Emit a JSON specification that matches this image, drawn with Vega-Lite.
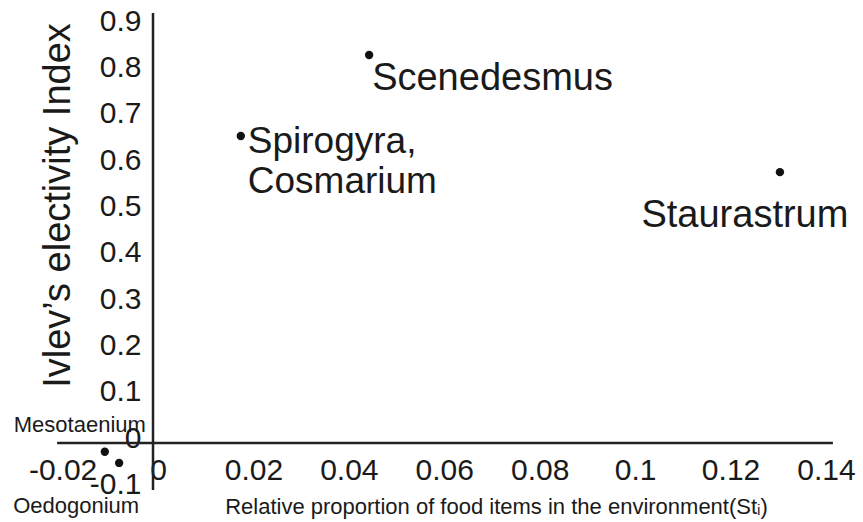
{
  "$schema": "https://vega.github.io/schema/vega-lite/v6.json",
  "width": 863,
  "height": 522,
  "padding": 0,
  "autosize": {"type": "none"},
  "background": "white",
  "config": {
    "view": {"stroke": null},
    "font": "Liberation Sans",
    "text": {"font": "Liberation Sans", "color": "#1a1a1a"}
  },
  "datasets": {
    "points": [
      {"x": 0.0453, "y": 0.838, "name": "Scenedesmus", "label": "Scenedesmus"},
      {"x": 0.0184, "y": 0.663, "name": "Spirogyra", "label": "Spirogyra,\nCosmarium"},
      {"x": 0.1314, "y": 0.585, "name": "Staurastrum", "label": "Staurastrum"},
      {"x": -0.0101, "y": -0.019, "name": "Mesotaenium", "label": "Mesotaenium"},
      {"x": -0.0071, "y": -0.043, "name": "Oedogonium", "label": "Oedogonium"}
    ],
    "axislines": [
      {"x": 0, "x2": 0, "y": -0.1015, "y2": 0.9287},
      {"x": -0.0201, "x2": 0.1425, "y": 0, "y2": 0}
    ]
  },
  "data": {"name": "points"},
  "encoding": {
    "x": {
      "field": "x",
      "type": "quantitative",
      "scale": {"domain": [-0.03207, 0.14881], "nice": false, "zero": false},
      "axis": {
        "orient": "bottom",
        "offset": -79,
        "domain": false,
        "ticks": false,
        "grid": false,
        "values": [-0.02, 0, 0.02, 0.04, 0.06, 0.08, 0.1, 0.12, 0.14],
        "labelExpr": "'' + datum.value",
        "labelFontSize": 30,
        "labelFont": "Liberation Sans",
        "labelColor": "#1a1a1a",
        "labelPadding": 12,
        "labelOffset": 5,
        "labelFlush": false,
        "labelOverlap": false,
        "title": "Relative proportion of food items in the environment(Stᵢ)",
        "titleFont": "Liberation Sans Narrow, Liberation Sans",
        "titleFontSize": 22,
        "titleFontWeight": "normal",
        "titleColor": "#1a1a1a",
        "titleX": 496,
        "titleY": 70,
        "titleAlign": "center",
        "titleBaseline": "alphabetic",
        "titleAnchor": null
      }
    },
    "y": {
      "field": "y",
      "type": "quantitative",
      "scale": {"domain": [-0.1706, 0.9568], "nice": false, "zero": false},
      "axis": {
        "orient": "left",
        "offset": -153,
        "domain": false,
        "ticks": false,
        "grid": false,
        "values": [-0.1, 0, 0.1, 0.2, 0.3, 0.4, 0.5, 0.6, 0.7, 0.8, 0.9],
        "labelExpr": "'' + datum.value",
        "labelFontSize": 30,
        "labelFont": "Liberation Sans",
        "labelColor": "#1a1a1a",
        "labelPadding": 12,
        "labelOffset": -5,
        "labelFlush": false,
        "labelOverlap": false,
        "title": "Ivlev’s electivity Index",
        "titleFont": "Liberation Sans",
        "titleFontSize": 38,
        "titleFontWeight": "normal",
        "titleColor": "#1a1a1a",
        "titleAngle": -90,
        "titleX": -84,
        "titleY": 205,
        "titleAlign": "center",
        "titleBaseline": "alphabetic",
        "titleAnchor": null
      }
    }
  },
  "layer": [
    {
      "data": {"name": "axislines"},
      "mark": {"type": "rule", "stroke": "#222222", "strokeWidth": 2.5},
      "encoding": {
        "x2": {"field": "x2"},
        "y2": {"field": "y2"}
      }
    },
    {
      "mark": {"type": "circle", "size": 70, "color": "#111111", "opacity": 1}
    },
    {
      "transform": [{"filter": "datum.name == 'Scenedesmus'"}],
      "mark": {"type": "text", "align": "left", "baseline": "alphabetic", "dx": 3, "dy": 35, "fontSize": 38},
      "encoding": {"text": {"field": "label"}}
    },
    {
      "transform": [{"filter": "datum.name == 'Spirogyra'"}],
      "mark": {"type": "text", "align": "left", "baseline": "alphabetic", "dx": 7, "dy": 17, "fontSize": 37, "lineBreak": "\n", "lineHeight": 40},
      "encoding": {"text": {"field": "label"}}
    },
    {
      "transform": [{"filter": "datum.name == 'Staurastrum'"}],
      "mark": {"type": "text", "align": "center", "baseline": "alphabetic", "dx": -35, "dy": 55, "fontSize": 38},
      "encoding": {"text": {"field": "label"}}
    },
    {
      "transform": [{"filter": "datum.name == 'Mesotaenium'"}],
      "mark": {"type": "text", "align": "center", "baseline": "alphabetic", "dx": -25, "dy": -20, "fontSize": 22},
      "encoding": {"text": {"field": "label"}}
    },
    {
      "transform": [{"filter": "datum.name == 'Oedogonium'"}],
      "mark": {"type": "text", "align": "center", "baseline": "alphabetic", "dx": -43, "dy": 50, "fontSize": 22},
      "encoding": {"text": {"field": "label"}}
    }
  ]
}
